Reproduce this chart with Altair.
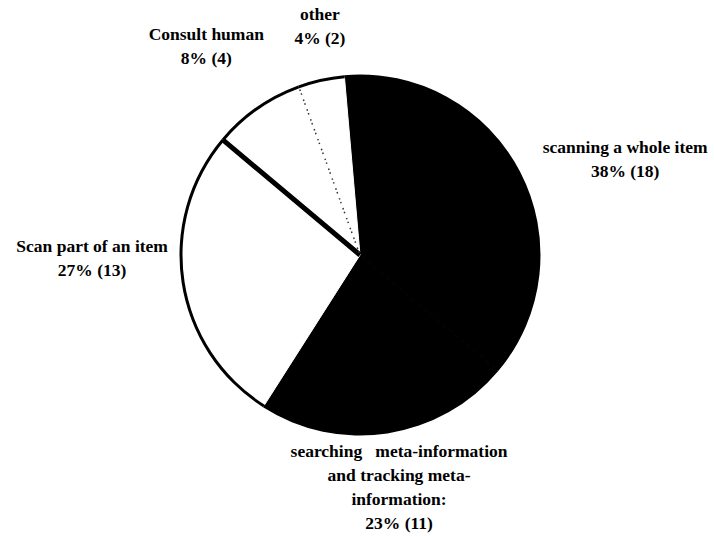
import math
import numpy as np
import pandas as pd
import altair as alt

# ---- data ----
categories = [
    "scanning a whole item",
    "searching meta-information and tracking meta-information",
    "Scan part of an item",
    "Consult human",
    "other",
]
counts = [18, 11, 13, 4, 2]
percents = ["38%", "23%", "27%", "8%", "4%"]
label_text = [
    "scanning a whole item",
    "searching\u00a0\u00a0 meta-information\nand tracking meta-\ninformation:",
    "Scan part of an item",
    "Consult human",
    "other",
]

# ---- styling ----
slice_fill = ["black", "black", "white", "white", "white"]
R = 179                       # pie radius (px)
START_DEG = -5                # angle of the first slice edge (clockwise from 12 o'clock)
label_radius = [286, 201, 268, 268, 243]      # distance of each label's first line
label_turn_deg = [5.5, -2.45, 10.45, 0.0, 3.0]
FONT = "Liberation Serif"

total = float(sum(counts))
cum = np.cumsum(counts)
start = cum - np.array(counts)
df = pd.DataFrame({
    "cat": categories,
    "count": counts,
    "start": start,
    "end": cum,
    "mid": (start + cum) / 2.0,
    "label": [f"{t}\n{p} ({c})" for t, p, c in zip(label_text, percents, counts)],
})
df["lt"] = df["mid"] + np.array(label_turn_deg) * total / 360.0
df["lr"] = label_radius

s = math.radians(START_DEG)
theta_scale = alt.Scale(domain=[0, total], range=[s, s + 2 * math.pi])
fill_scale = alt.Scale(domain=categories, range=slice_fill)

base = alt.Chart(df)

fills = base.mark_arc(strokeWidth=1).encode(
    theta=alt.Theta("start:Q", scale=theta_scale),
    theta2="end:Q",
    radius=alt.value(R),
    fill=alt.Fill("cat:N", scale=fill_scale, legend=None),
    stroke=alt.Stroke("cat:N", scale=fill_scale, legend=None),
)

ring = base.mark_arc(color="black").encode(
    theta=alt.Theta("start:Q", scale=theta_scale),
    theta2="end:Q",
    radius=alt.value(R + 1.5),
    radius2=alt.value(R - 1.5),
)

thick = base.transform_filter(alt.datum.cat == "Scan part of an item").mark_arc(
    stroke="black", strokeWidth=5, fillOpacity=0, strokeCap="butt"
).encode(
    theta=alt.Theta("end:Q", scale=theta_scale),
    theta2="end:Q",
    radius=alt.value(R),
)

dotted = base.transform_filter(alt.datum.cat == "Consult human").mark_arc(
    stroke="#333333", strokeWidth=1.5, fillOpacity=0, strokeDash=[1.5, 9]
).encode(
    theta=alt.Theta("end:Q", scale=theta_scale),
    theta2="end:Q",
    radius=alt.value(R - 3),
)

labels = base.mark_text(
    font=FONT, fontWeight="bold", fontSize=17.5, lineHeight=24,
    align="center", baseline="middle", lineBreak="\n", color="black",
).encode(
    theta=alt.Theta("lt:Q", scale=theta_scale),
    radius=alt.Radius("lr:Q", scale=None),
    text="label:N",
)

chart = alt.layer(fills, ring, thick, dotted, labels).properties(
    width=708,
    height=510,
    padding={"left": 6, "top": 0, "right": 0, "bottom": 26},
    autosize=alt.AutoSizeParams(type="none"),
    background="white",
).configure_view(stroke=None)

chart.save("out.html", embed_options={"renderer": "svg", "actions": False})
